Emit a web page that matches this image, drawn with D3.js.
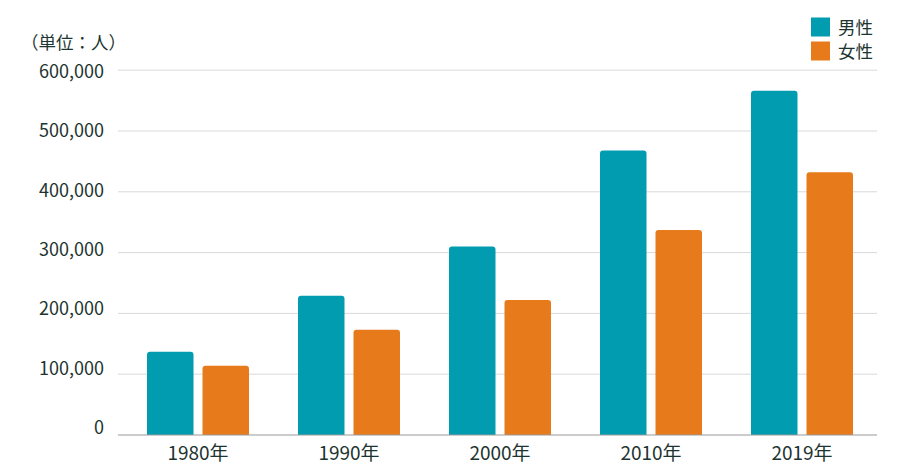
<!DOCTYPE html>
<html lang="ja">
<head>
  <meta charset="UTF-8">
  <title>男女別人数の推移</title>
  <script src="https://d3js.org/d3.v7.min.js"></script>
  <style>
    body { margin: 0; background: #fff; }
    text { font-family: "Noto Sans CJK JP", "Noto Sans", sans-serif; fill: #1d3430; }
    .legend text { font-family: "Noto Sans", "Noto Sans CJK JP", sans-serif; }
    .grid line { stroke: #d9d9d9; stroke-width: 1px; }
    .base { stroke: #9a9a9a; stroke-width: 1.2px; }
  </style>
</head>
<body>
  <div id="chart"></div>

  <script>
    // データ
    const years = ["1980年", "1990年", "2000年", "2010年", "2019年"];
    const seriesNames = ["男性", "女性"];
    const male = [137000, 229000, 310000, 468000, 566000];
    const female = [114000, 173000, 222000, 337000, 432000];
    const yTicks = [0, 100000, 200000, 300000, 400000, 500000, 600000];
    const colors = ["#029cb1", "#e77b1b"];

    const width = 900, height = 473;
    const svg = d3.select("#chart").append("svg")
      .attr("width", width)
      .attr("height", height);

    const x0 = d3.scaleBand().domain(years).range([122.5, 877.5]).padding(0);
    const x1 = d3.scaleBand().domain(seriesNames)
      .range([24.5, x0.bandwidth() - 24.5])
      .paddingInner(0.162).paddingOuter(0);
    const y = d3.scaleLinear().domain([0, 600000]).range([435, 70.2]);
    // 目盛りラベルは線より少し上に置かれている
    const yLabel = d3.scaleLinear().domain([0, 600000]).range([428, 71.5]);
    const color = d3.scaleOrdinal().domain(seriesNames).range(colors);

    // 補助線
    svg.append("g").attr("class", "grid")
      .selectAll("line")
      .data(yTicks.filter(d => d > 0))
      .enter().append("line")
      .attr("x1", 118).attr("x2", 877)
      .attr("y1", d => y(d)).attr("y2", d => y(d));

    // y 軸ラベル
    svg.append("g")
      .selectAll("text")
      .data(yTicks)
      .enter().append("text")
      .attr("x", 104)
      .attr("y", d => yLabel(d))
      .attr("dy", "0.35em")
      .attr("text-anchor", "end")
      .style("font-size", "18px")
      .text(d => d3.format(",")(d));

    svg.append("text")
      .attr("x", 21).attr("y", 43)
      .attr("dy", "0.35em")
      .style("font-size", "17.5px")
      .text("（単位：人）");

    // 棒（上の角だけ丸める）
    const r = 3;
    function topRounded(x, yTop, w, yBase) {
      return `M${x},${yBase}V${yTop + r}Q${x},${yTop} ${x + r},${yTop}` +
        `H${x + w - r}Q${x + w},${yTop} ${x + w},${yTop + r}V${yBase}Z`;
    }

    const rows = years.map((yr, i) => ({ year: yr, values: [
      { key: "男性", value: male[i] },
      { key: "女性", value: female[i] }
    ]}));

    const groups = svg.append("g").selectAll("g")
      .data(rows)
      .enter().append("g")
      .attr("transform", d => `translate(${x0(d.year)},0)`);

    groups.selectAll("path")
      .data(d => d.values)
      .enter().append("path")
      .attr("fill", d => color(d.key))
      .attr("d", d => topRounded(x1(d.key), y(d.value), x1.bandwidth(), y(0)));

    // 基線
    svg.append("line").attr("class", "base")
      .attr("x1", 118).attr("x2", 877)
      .attr("y1", y(0)).attr("y2", y(0));

    // x 軸ラベル
    svg.append("g")
      .selectAll("text")
      .data(years)
      .enter().append("text")
      .attr("x", d => x0(d) + x0.bandwidth() / 2)
      .attr("y", 453)
      .attr("dy", "0.35em")
      .attr("text-anchor", "middle")
      .style("font-size", "19px")
      .text(d => d);

    // 凡例
    const legendStep = 24;
    const legend = svg.append("g").attr("class", "legend")
      .selectAll("g")
      .data(seriesNames)
      .enter().append("g")
      .attr("transform", (d, i) => `translate(811,${17.5 + i * legendStep})`);
    legend.append("rect")
      .attr("width", 19).attr("height", 19)
      .attr("fill", d => color(d));
    legend.append("text")
      .attr("x", 27).attr("y", 10)
      .attr("dy", "0.35em")
      .style("font-size", "17.5px")
      .text(d => d);
  </script>
</body>
</html>
